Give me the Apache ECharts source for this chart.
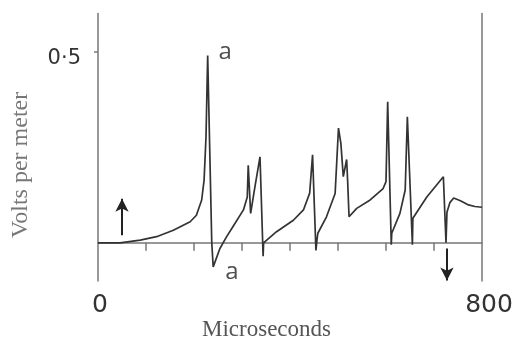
<!DOCTYPE html>
<html>
<head>
<meta charset="utf-8">
<script src="https://cdn.jsdelivr.net/npm/echarts@6/dist/echarts.min.js"></script>
<style>html,body{margin:0;padding:0;background:#fff;}#c{width:523px;height:345px;}</style>
</head>
<body>
<div id="c"></div>
<script>
// Time in microseconds and field strength in volts per meter
var timeUs = [0, 46, 88, 122, 157, 192, 205, 216, 221, 225, 228.5, 237, 240, 254, 268, 281, 303, 311, 313, 318, 327, 337.5, 344, 345,
  372, 407, 428, 441, 447, 454, 456, 458, 476, 494, 501, 506, 511, 518, 520, 523, 539, 567, 594, 600, 603.5, 611, 612,
  629, 640, 644.5, 655, 656, 685, 719.5, 725, 727, 733, 741, 755, 770, 785, 800];
var voltsPerMeter = [0, 0, 0.007, 0.016, 0.033, 0.055, 0.072, 0.112, 0.164, 0.277, 0.49, 0, -0.063, -0.015, 0.016, 0.042, 0.086, 0.12, 0.203, 0.077, 0.147, 0.225, -0.035, 0,
  0.029, 0.059, 0.086, 0.13, 0.23, -0.02, 0.005, 0.025, 0.068, 0.129, 0.30, 0.26, 0.173, 0.218, 0.164, 0.068, 0.09, 0.112, 0.142, 0.16, 0.369, -0.005, 0.025,
  0.077, 0.138, 0.33, -0.005, 0.064, 0.12, 0.173, 0, 0.08, 0.105, 0.117, 0.11, 0.1, 0.095, 0.093];

var xTickValues = [100, 200, 300, 400, 500, 600, 700];
var xLabelValues = [0, 800];
var yLabelValues = [0.5];
var xTitle = 'Microseconds';
var yTitle = 'Volts per meter';

var annX = [265, 279];
var annY = [0.5, -0.077];
var annText = ['a', 'a'];

var arrowX = [50, 727];
var arrowFrom = [0.02, -0.015];
var arrowTo = [0.115, -0.099];

var chart = echarts.init(document.getElementById('c'), null, {renderer: 'canvas'});
var axisColor = '#777';
var traceData = timeUs.map(function (t, i) { return [t, voltsPerMeter[i]]; });
var annData = annX.map(function (x, i) { return {value: [x, annY[i]], name: annText[i]}; });
var arrowLines = arrowX.map(function (x, i) { return [{coord: [x, arrowFrom[i]]}, {coord: [x, arrowTo[i]]}]; });

chart.setOption({
  animation: false,
  backgroundColor: '#fff',
  grid: {left: 98, right: 41, top: 13.5, bottom: 64, containLabel: false, outerBoundsMode: 'none'},
  graphic: [{
    type: 'text', left: 202, top: 318,
    style: {text: xTitle, font: '23px "Liberation Serif"', fill: '#555'}
  }, {
    type: 'text', x: 9, y: 238, rotation: Math.PI / 2,
    style: {text: yTitle, font: '24px "Liberation Serif"', fill: '#777', align: 'left', verticalAlign: 'top'}
  }],
  xAxis: {
    type: 'value', min: 0, max: 800,
    axisLine: {show: true, onZero: true, lineStyle: {color: axisColor, width: 1.5}},
    axisTick: {show: true, customValues: xTickValues, length: 8, inside: false, lineStyle: {color: axisColor, width: 1.5}},
    axisLabel: {
      show: true, customValues: xLabelValues, margin: 12,
      formatter: function (v) { return v === 0 ? '{z|0}' : '{r|' + v + '}'; },
      rich: {
        z: {fontFamily: 'DejaVu Sans', fontSize: 25, color: '#333', padding: [0, 0, 0, 4]},
        r: {fontFamily: 'DejaVu Sans', fontSize: 25, color: '#333', padding: [0, 0, 0, 14]}
      }
    },
    splitLine: {show: false}
  },
  yAxis: [{
    type: 'value', min: -0.1, max: 0.6,
    axisLine: {show: true, onZero: false, lineStyle: {color: axisColor, width: 1.5}},
    axisTick: {show: true, customValues: yLabelValues, length: 4, lineStyle: {color: axisColor, width: 1.5}},
    axisLabel: {show: true, customValues: yLabelValues, margin: 17,
      formatter: function () { return '{v|0·5}'; },
      rich: {v: {fontFamily: 'DejaVu Sans', fontSize: 21, color: '#333', padding: [13, 0, 0, 0]}}},
    splitLine: {show: false}
  }, {
    type: 'value', min: -0.1, max: 0.6, position: 'right',
    axisLine: {show: true, onZero: false, lineStyle: {color: axisColor, width: 1.5}},
    axisTick: {show: false}, axisLabel: {show: false}, splitLine: {show: false}
  }],
  series: [{
    type: 'line',
    data: traceData,
    showSymbol: false,
    symbol: 'none',
    lineStyle: {color: '#333', width: 1.7},
    clip: false,
    markLine: {
      silent: true,
      symbol: ['none', 'arrow'],
      symbolSize: [10, 13],
      label: {show: false},
      lineStyle: {color: '#222', width: 2, type: 'solid'},
      data: arrowLines
    }
  }, {
    type: 'scatter',
    data: annData,
    symbolSize: 0,
    silent: true,
    label: {
      show: true, position: 'inside',
      formatter: function (p) { return p.name; },
      fontFamily: 'Open Sans', fontSize: 24, color: '#222'
    }
  }]
});
</script>
</body>
</html>
